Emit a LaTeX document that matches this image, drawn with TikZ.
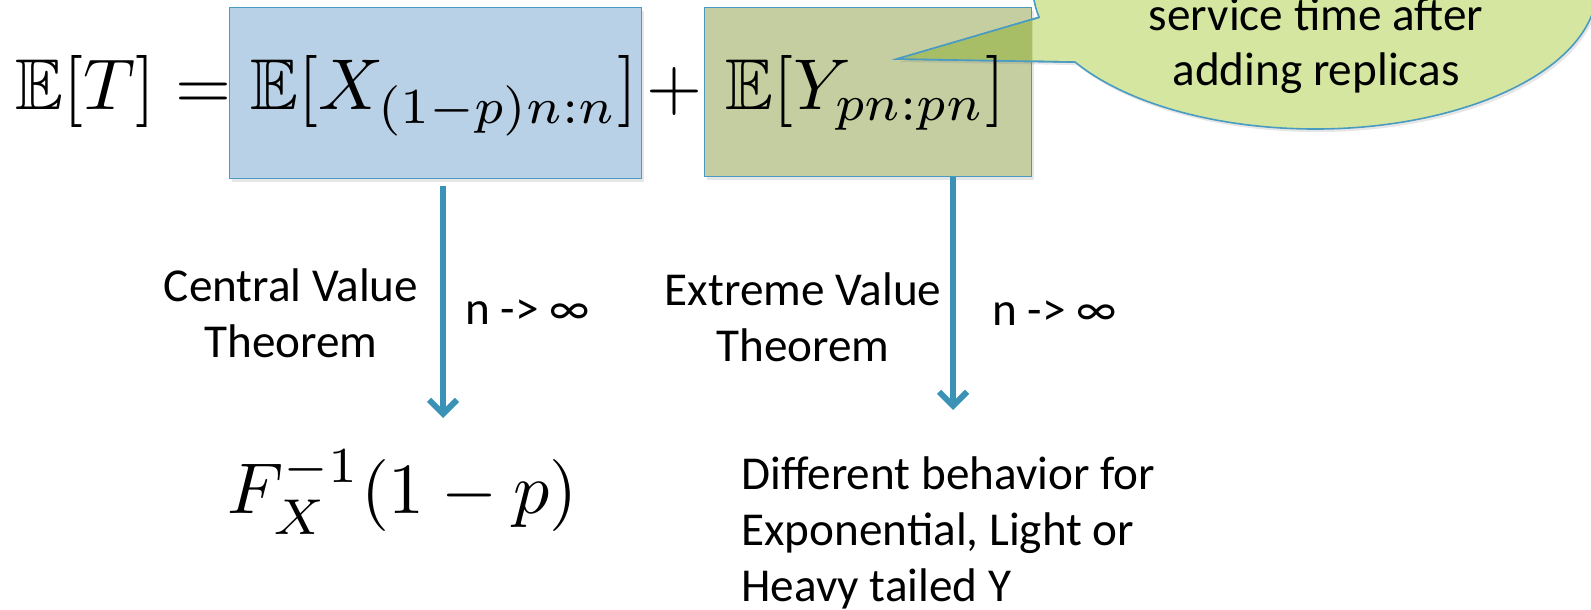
\documentclass[tikz,border=0pt]{standalone}
\usepackage{amssymb}
\usepackage{fontspec}
\newfontfamily\carl{Carlito}
\usetikzlibrary{arrows.meta,shadows,calc}
\definecolor{bluefill}{HTML}{B8D1E6}
\definecolor{greenfill}{HTML}{C4CEA0}
\definecolor{callfill}{HTML}{D5E6A1}
\definecolor{wedgefill}{HTML}{A8BE66}
\definecolor{edgec}{HTML}{4A9BC2}
\definecolor{arrowc}{HTML}{3A93B6}
\begin{document}
\begin{tikzpicture}[x=0.5pt,y=-0.5pt,
  eqbox/.style={draw=edgec,line width=0.7pt,anchor=north west,inner sep=0pt,
    drop shadow={shadow xshift=1pt,shadow yshift=-1.5pt,opacity=0.2}},
  mathtxt/.style={anchor=base west,inner sep=0pt,scale=3.6},
  lbl/.style={font=\carl\fontsize{23.6}{28}\selectfont,inner sep=0pt},
  arr/.style={draw=arrowc,line width=3pt,-{Straight Barb[length=7pt,width=14pt]}}]
\useasboundingbox (0,0) rectangle (1591,610);

% boxes
\node[eqbox,fill=bluefill,minimum width=206pt,minimum height=85.5pt] (box1) at (229,7) {};
\node[eqbox,fill=greenfill,minimum width=163.5pt,minimum height=84.5pt] (box2) at (704,7) {};

% callout
\coordinate (cc) at (1315,-12);
\coordinate (tip) at (897,59);
\coordinate (wa) at ($(cc)+(168:282 and 141)$);
\coordinate (wb) at ($(cc)+(148.3:282 and 141)$);
\path[fill=callfill,draw=edgec,line width=0.8pt,
  drop shadow={shadow xshift=1pt,shadow yshift=-1.5pt,opacity=0.2}]
  (wa) -- (tip) -- (wb) arc[start angle=148.3,end angle=-192,x radius=282,y radius=141] -- cycle;
\begin{scope}
  \clip (box2.north west) rectangle (box2.south east);
  \fill[wedgefill] (wa) -- (tip) -- (wb) -- cycle;
\end{scope}
\draw[edgec,line width=0.8pt] (wa) -- (tip) -- (wb);
\node[lbl,align=center,anchor=base] (call) at (1316,86) {service time after\\adding replicas};

% equation
\node[mathtxt] (eqT) at (14,110) {$\mathbb{E}[T] =$};
\node[mathtxt] (eqX) at (249,110) {$\mathbb{E}[X_{(1-p)n:n}]$};
\node[mathtxt] (plus) at (645,110) {$+$};
\node[mathtxt] (eqY) at (724,110) {$\mathbb{E}[Y_{pn:pn}]$};

% arrows
\coordinate (t1) at (443,418);
\coordinate (t2) at (953,410);
\draw[arr] ($(t1 |- box1.south)+(0,7)$) -- (t1);
\draw[arr] (t2 |- box2.south) -- (t2);

% labels
\node[lbl,align=center,anchor=base] (cvt) at (291,357) {Central Value\\Theorem};
\node[lbl,anchor=base west] (n1) at (465,324) {n -> ∞};
\node[lbl,align=center,anchor=base] (evt) at (803,361) {Extreme Value\\Theorem};
\node[lbl,anchor=base west] (n2) at (992,325) {n -> ∞};

% results
\node[mathtxt] (fx) at (226,513) {$F_X^{-1}(1-p)$};
\node[lbl,align=left,anchor=base west] (diff) at (741,601) {Different behavior for\\Exponential, Light or\\Heavy tailed Y};
\end{tikzpicture}
\end{document}
